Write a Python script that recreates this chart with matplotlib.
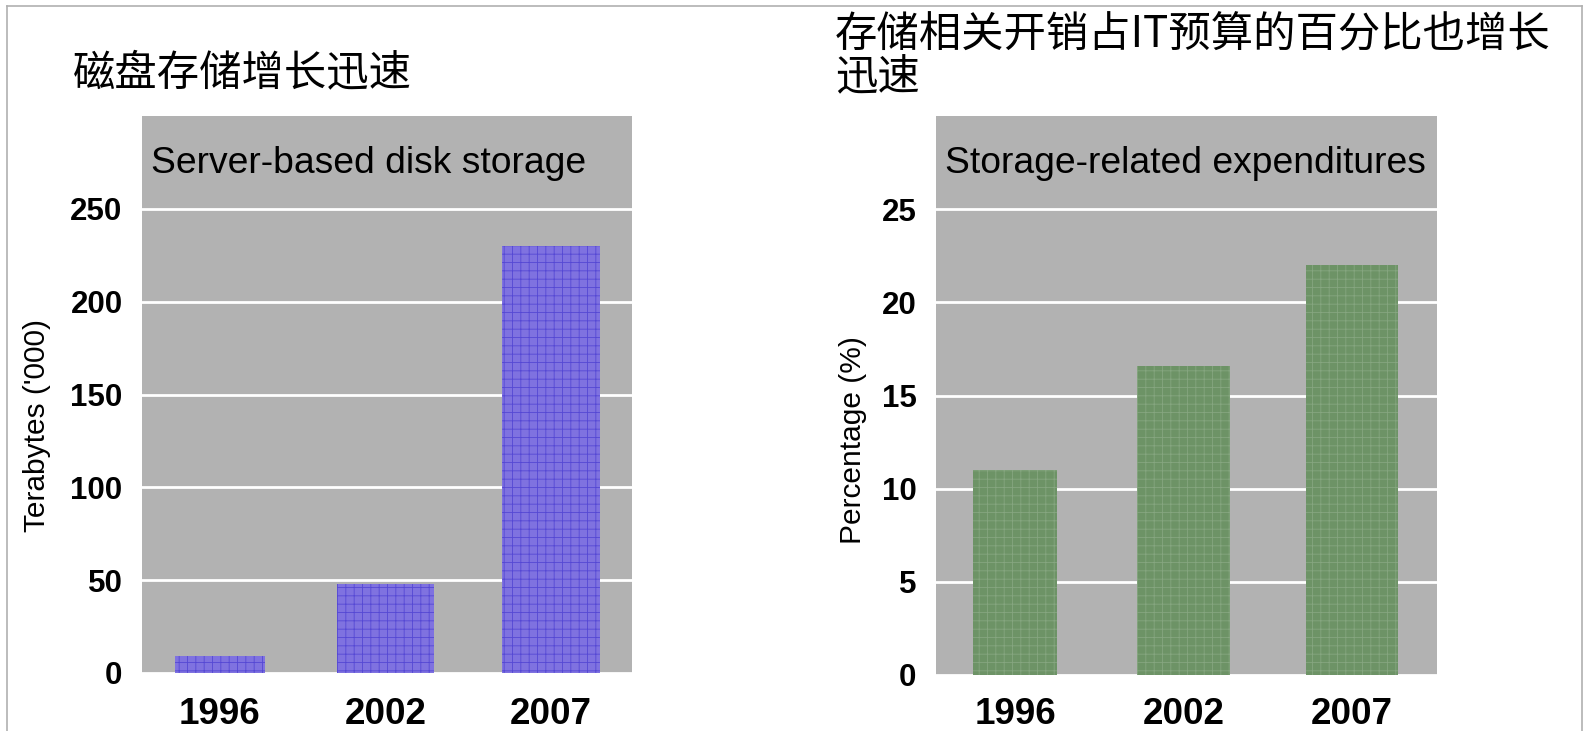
import matplotlib
matplotlib.use("Agg")
import matplotlib.pyplot as plt
from matplotlib.lines import Line2D

years = ["1996", "2002", "2007"]
disk_tb = [9, 48, 230]
expend_pct = [11, 16.6, 22]

left_title_cn = "磁盘存储增长迅速"
right_title_cn = "存储相关开销占IT预算的百分比也增长\n迅速"
left_inner = "Server-based disk storage"
right_inner = "Storage-related expenditures"
left_ylabel = "Terabytes ('000)"
right_ylabel = "Percentage (%)"
left_ticks = [0, 50, 100, 150, 200, 250]
right_ticks = [0, 5, 10, 15, 20, 25]

LAT = ["Liberation Sans", "DejaVu Sans"]
CJK = ["Noto Sans CJK SC", "DejaVu Sans"]
plt.rcParams["hatch.linewidth"] = 0.6

W, H = 1587, 731
fig = plt.figure(figsize=(W / 100, H / 100), dpi=100)

def fx(px):
    return px / W

def fy(py):
    return 1 - py / H

def panel(rect, vals, ylim, ticks, inner, face, hatchc, xlim, bw, xpad):
    ax = fig.add_axes(rect)
    ax.set_facecolor("#b2b2b2")
    ax.set_axisbelow(True)
    x = list(range(len(years)))
    ax.bar(x, vals, width=bw, color=face, edgecolor=hatchc, hatch="++", linewidth=0)
    ax.set_xlim(*xlim)
    ax.set_ylim(*ylim)
    ax.set_yticks(ticks)
    ax.set_yticklabels([str(t) for t in ticks], fontfamily=LAT, fontweight="bold", fontsize=22.5)
    ax.set_xticks(x)
    ax.set_xticklabels(years, fontfamily=LAT, fontweight="bold", fontsize=26.5)
    ax.tick_params(axis="both", length=0)
    ax.tick_params(axis="y", pad=14)
    ax.tick_params(axis="x", pad=xpad)
    ax.grid(axis="y", color="white", linewidth=2)
    for s in ax.spines.values():
        s.set_visible(False)
    ax.text(0.018, 0.915, inner, transform=ax.transAxes, fontfamily=LAT, fontsize=26.8,
            ha="left", va="center", color="black")
    return ax

axL = panel([fx(142), fy(673), fx(490), (673 - 116) / H], disk_tb, (0, 300), left_ticks,
            left_inner, "#7f72e0", "#5548d4", (-0.47, 2.49), [0.54, 0.59, 0.59], 17)
axR = panel([fx(936), fy(675), fx(501), (675 - 116) / H], expend_pct, (0, 30), right_ticks,
            right_inner, "#6d9366", "#86a680", (-0.47, 2.505), [0.5, 0.55, 0.55], 15.5)

fig.text(fx(37), fy(425), left_ylabel, rotation=90, ha="center", va="center",
         fontfamily=LAT, fontsize=21.5)
fig.text(fx(853), fy(440), right_ylabel, rotation=90, ha="center", va="center",
         fontfamily=LAT, fontsize=21.5)

fig.text(fx(73), fy(73), left_title_cn, ha="left", va="center", fontfamily=CJK, fontsize=30.5)
fig.text(fx(835), fy(57), right_title_cn, ha="left", va="center", fontfamily=CJK, fontsize=30.5,
         linespacing=0.98)

# thin frame around the slide
for xs, ys in [((fx(7), fx(7)), (0, fy(6))), ((fx(7), fx(1582)), (fy(6), fy(6))),
               ((fx(1582), fx(1582)), (fy(6), 0))]:
    fig.add_artist(Line2D(xs, ys, color="#b0b0b0", linewidth=1.2, transform=fig.transFigure))

fig.savefig("out.png", dpi=100, facecolor="white")
